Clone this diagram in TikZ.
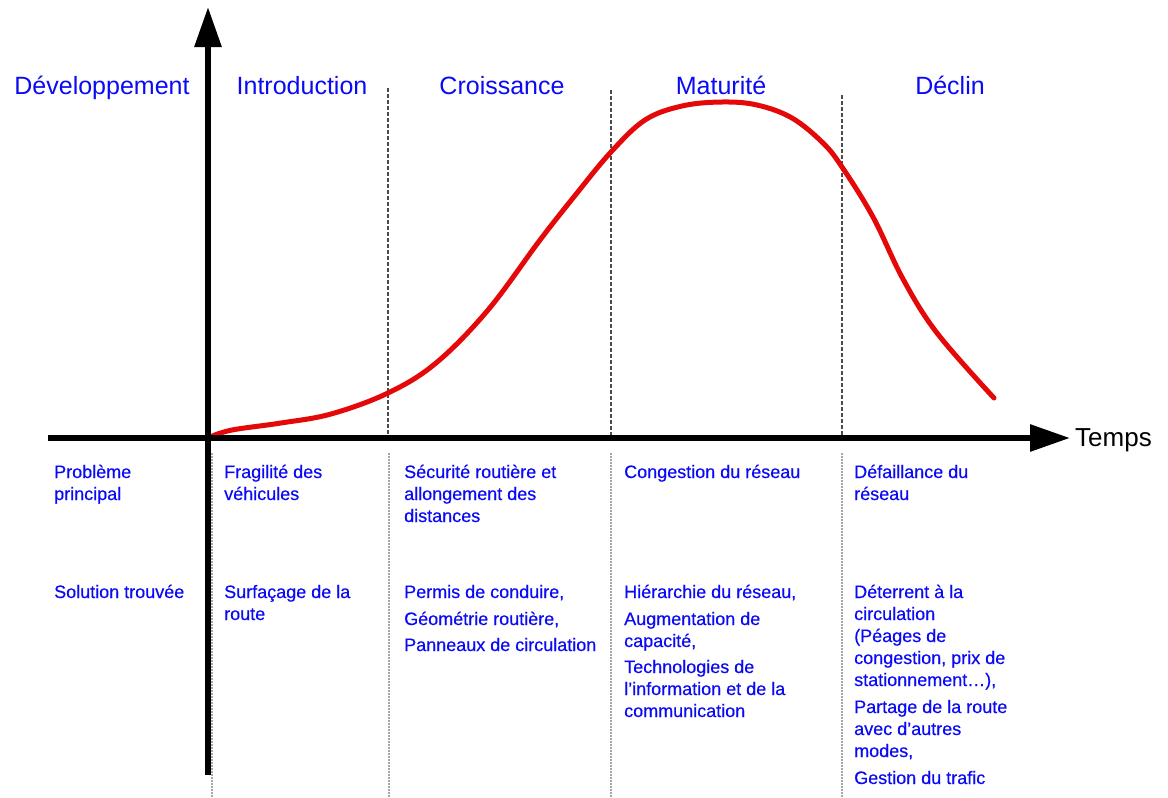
\documentclass[tikz,border=0pt]{standalone}
\usepackage{fontspec}
\setmainfont{Liberation Sans}
\newfontfamily\cellfont{Liberation Sans}[FakeBold=0.35]
\usetikzlibrary{arrows.meta}
\definecolor{curvered}{RGB}{228,8,8}
\definecolor{labelblue}{RGB}{10,10,245}
\newcommand{\celltext}[1]{\parbox[t]{300pt}{\cellfont\fontsize{18}{22}\selectfont\raggedright #1}}
\begin{document}
\begin{tikzpicture}[x=1pt,y=-1pt,
  axis/.style={line width=6pt, -{Triangle[length=40pt,width=26pt]}},
  phase/.style={draw=black!70, line width=1.3pt, dash pattern=on 4pt off 2pt},
  sepline/.style={draw=black!35, line width=1.5pt, dash pattern=on 1.5pt off 1.5pt},
  lifecurve/.style={draw=curvered, line width=5pt, line cap=round, line join=round},
  phaselabel/.style={text=labelblue, font=\fontsize{25}{30}\selectfont, anchor=base, inner sep=0pt},
  cell/.style={text=labelblue, anchor=base west, inner sep=0pt},
]
\useasboundingbox (0,0) rectangle (1168,798);
\fill[white] (0,0) rectangle (1168,798);

% axes
\coordinate (ybot) at (208,775);
\coordinate (ytop) at (208,7);
\coordinate (xstart) at (48,438);
\coordinate (xend) at (1070,438);

% phase separators above axis
\coordinate (p1t) at (388,88);  \coordinate (p1b) at (388,435);
\coordinate (p2t) at (611,90);  \coordinate (p2b) at (611,435);
\coordinate (p3t) at (842,95);  \coordinate (p3b) at (842,435);
\draw[phase] (p1t) -- (p1b);
\draw[phase] (p2t) -- (p2b);
\draw[phase] (p3t) -- (p3b);

% separators below axis
\coordinate (s0t) at (212,453); \coordinate (s0b) at (212,798);
\coordinate (s1t) at (389,453); \coordinate (s1b) at (389,798);
\coordinate (s2t) at (611,453); \coordinate (s2b) at (611,798);
\coordinate (s3t) at (842,453); \coordinate (s3b) at (842,798);
\draw[sepline] (s0t) -- (s0b);
\draw[sepline] (s1t) -- (s1b);
\draw[sepline] (s2t) -- (s2b);
\draw[sepline] (s3t) -- (s3b);

% life cycle curve
\draw[lifecurve] plot[smooth, tension=0.6] coordinates {
 (210,437) (232,430) (281,423) (331,414) (388,393) (436,363) (488,310)
 (540,240) (577,193) (611,152) (645,120) (682,106) (722,102) (757,105)
 (792,118) (823,143) (842,167) (873,217) (903,279) (937,333) (994,398)};

\draw[axis] (ybot) -- (ytop);
\draw[axis] (xstart) -- (xend);

\node[anchor=base west, inner sep=0pt, font=\fontsize{26}{30}\selectfont] (temps) at (1075,446) {Temps};

% phase labels
\node[phaselabel] (dev) at (102,94) {Développement};
\node[phaselabel] (intro) at (302,94) {Introduction};
\node[phaselabel] (crois) at (502,94) {Croissance};
\node[phaselabel] (matu) at (721,94) {Maturité};
\node[phaselabel] (decl) at (950,94) {Déclin};

% column 1
\node[cell] (c1a) at (54,478) {\celltext{Problème\\principal}};
\node[cell] (c1b) at (54,598) {\celltext{Solution trouvée}};
% column 2
\node[cell] (c2a) at (224,478) {\celltext{Fragilité des\\véhicules}};
\node[cell] (c2b) at (224,598) {\celltext{Surfaçage de la\\route}};
% column 3
\node[cell] (c3a) at (404,478) {\celltext{Sécurité routière et\\allongement des\\distances}};
\node[cell] (c3b) at (404,598) {\celltext{Permis de conduire,}};
\node[cell] (c3c) at (404,625) {\celltext{Géométrie routière,}};
\node[cell] (c3d) at (404,651) {\celltext{Panneaux de circulation}};
% column 4
\node[cell] (c4a) at (624,478) {\celltext{Congestion du réseau}};
\node[cell] (c4b) at (624,598) {\celltext{Hiérarchie du réseau,}};
\node[cell] (c4c) at (624,625) {\celltext{Augmentation de\\capacité,}};
\node[cell] (c4d) at (624,673) {\celltext{Technologies de\\l’information et de la\\communication}};
% column 5
\node[cell] (c5a) at (854,478) {\celltext{Défaillance du\\réseau}};
\node[cell] (c5b) at (854,598) {\celltext{Déterrent à la\\circulation\\(Péages de\\congestion, prix de\\stationnement…),}};
\node[cell] (c5c) at (854,713) {\celltext{Partage de la route\\avec d’autres\\modes,}};
\node[cell] (c5d) at (854,784) {\celltext{Gestion du trafic}};
\end{tikzpicture}
\end{document}
